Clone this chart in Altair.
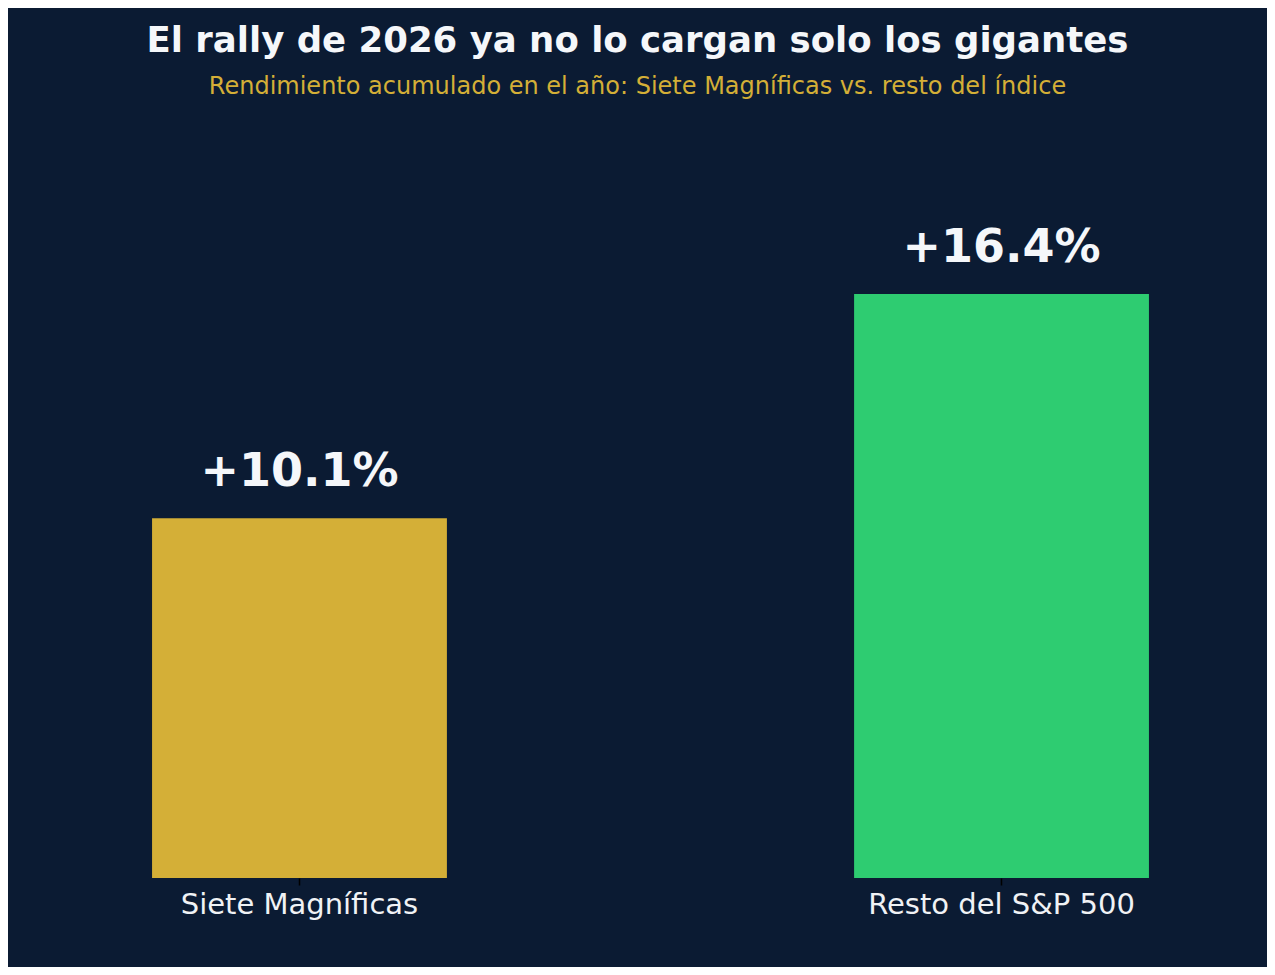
import altair as alt
import pandas as pd

categories = ["Siete Magníficas", "Resto del S&P 500"]
values = [10.1, 16.4]
labels = ["+10.1%", "+16.4%"]
colors = ["#d4af37", "#2ecc71"]

df = pd.DataFrame({"cat": categories, "val": values, "lab": labels, "col": colors})

BG = "#0b1b33"
FONT = "DejaVu Sans"

x = alt.X("cat:N", sort=categories, title=None,
          scale=alt.Scale(paddingInner=0.58, paddingOuter=0.0713),
          axis=alt.Axis(labelAngle=0, labelFontSize=29, labelColor="#f0f2f5",
                        labelFont=FONT, labelPadding=5, labelLimit=0, domain=False,
                        tickColor="#000000", tickSize=7, tickWidth=1.5))
y = alt.Y("val:Q", scale=alt.Scale(domain=[0, 20.5], nice=False, zero=True),
          axis=None)

bars = alt.Chart(df).mark_bar().encode(
    x=x, y=y, color=alt.Color("col:N", scale=None, legend=None)
)
text = alt.Chart(df).mark_text(
    baseline="alphabetic", dy=-32, fontSize=46, fontWeight="bold",
    font=FONT, color="#f5f7fa"
).encode(x=alt.X("cat:N", sort=categories), y="val:Q", text="lab:N")

chart = (bars + text).properties(
    width=1097, height=730,
    background=BG,
    padding={"left": 94, "top": 15, "right": 68, "bottom": 48},
    title=alt.TitleParams(
        text="El rally de 2026 ya no lo cargan solo los gigantes",
        subtitle="Rendimiento acumulado en el año: Siete Magníficas vs. resto del índice",
        font=FONT, fontSize=35.5, fontWeight="bold", color="#f5f7fa",
        subtitleFont=FONT, subtitleFontSize=24, subtitleColor="#d4af37",
        subtitlePadding=16, anchor="middle", dx=-13, offset=49,
    ),
).configure_view(stroke=None)

chart.save("out.html", embed_options={"renderer": "svg", "actions": False})
